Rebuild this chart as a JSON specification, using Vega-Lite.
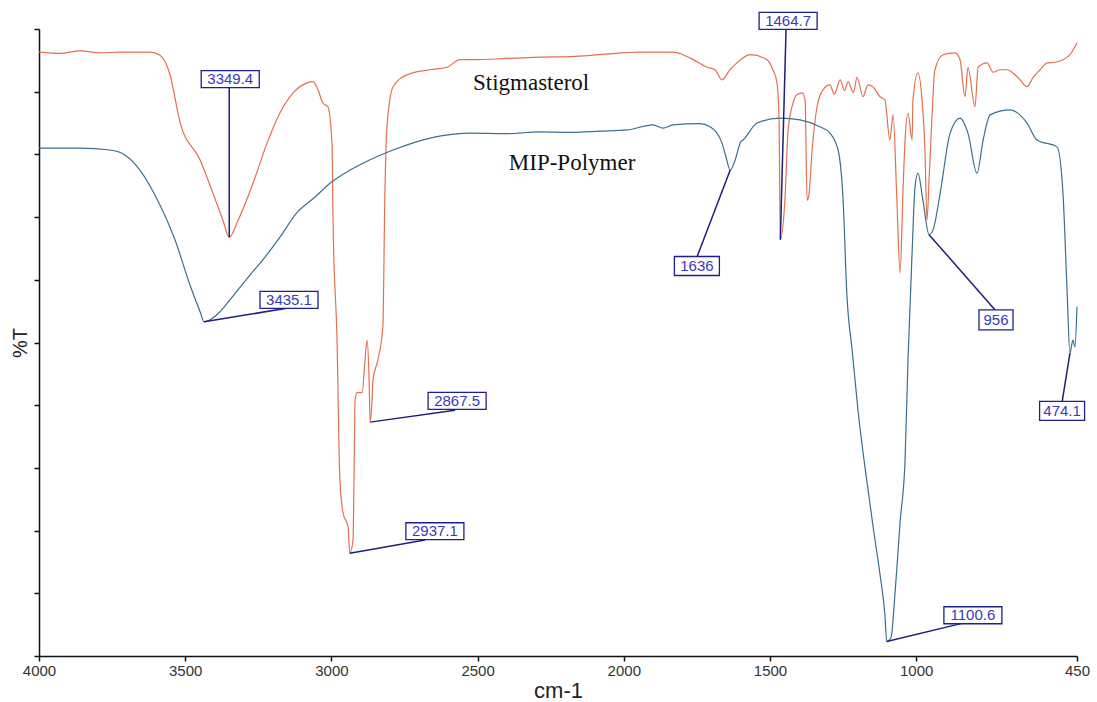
{
  "$schema": "https://vega.github.io/schema/vega-lite/v6.json",
  "width": 1038,
  "height": 627,
  "autosize": "none",
  "padding": {"left": 39, "top": 29, "right": 20, "bottom": 46},
  "background": "white",
  "config": {"view": {"stroke": null}},
  "datasets": {
    "spectra": [
      {"series": "Stigmasterol", "w": 4000, "t": 96.3},
      {"series": "Stigmasterol", "w": 3930, "t": 96.1},
      {"series": "Stigmasterol", "w": 3860, "t": 96.5},
      {"series": "Stigmasterol", "w": 3790, "t": 96.2},
      {"series": "Stigmasterol", "w": 3723, "t": 96.3},
      {"series": "Stigmasterol", "w": 3620, "t": 96.3},
      {"series": "Stigmasterol", "w": 3586, "t": 95.8},
      {"series": "Stigmasterol", "w": 3552, "t": 92.7},
      {"series": "Stigmasterol", "w": 3518, "t": 85.2},
      {"series": "Stigmasterol", "w": 3449, "t": 79.1},
      {"series": "Stigmasterol", "w": 3405, "t": 73.8},
      {"series": "Stigmasterol", "w": 3371, "t": 69.5},
      {"series": "Stigmasterol", "w": 3349.4, "t": 66.8},
      {"series": "Stigmasterol", "w": 3319, "t": 69.5},
      {"series": "Stigmasterol", "w": 3268, "t": 75.4},
      {"series": "Stigmasterol", "w": 3220, "t": 81.8},
      {"series": "Stigmasterol", "w": 3176, "t": 86.6},
      {"series": "Stigmasterol", "w": 3131, "t": 89.8},
      {"series": "Stigmasterol", "w": 3083, "t": 91.4},
      {"series": "Stigmasterol", "w": 3063, "t": 91.6},
      {"series": "Stigmasterol", "w": 3046, "t": 90.3},
      {"series": "Stigmasterol", "w": 3029, "t": 88.2},
      {"series": "Stigmasterol", "w": 3012, "t": 87.6},
      {"series": "Stigmasterol", "w": 2998, "t": 81.8},
      {"series": "Stigmasterol", "w": 2994, "t": 68.4},
      {"series": "Stigmasterol", "w": 2981, "t": 50.9},
      {"series": "Stigmasterol", "w": 2971, "t": 28.1},
      {"series": "Stigmasterol", "w": 2960, "t": 22.8},
      {"series": "Stigmasterol", "w": 2943, "t": 20.6},
      {"series": "Stigmasterol", "w": 2937.1, "t": 16.4},
      {"series": "Stigmasterol", "w": 2926, "t": 18.5},
      {"series": "Stigmasterol", "w": 2923, "t": 27.0},
      {"series": "Stigmasterol", "w": 2919, "t": 40.8},
      {"series": "Stigmasterol", "w": 2912, "t": 42.0},
      {"series": "Stigmasterol", "w": 2895, "t": 42.0},
      {"series": "Stigmasterol", "w": 2885, "t": 47.2},
      {"series": "Stigmasterol", "w": 2878, "t": 50.4},
      {"series": "Stigmasterol", "w": 2871, "t": 44.0},
      {"series": "Stigmasterol", "w": 2867.5, "t": 37.3},
      {"series": "Stigmasterol", "w": 2861, "t": 40.8},
      {"series": "Stigmasterol", "w": 2858, "t": 44.0},
      {"series": "Stigmasterol", "w": 2841, "t": 47.2},
      {"series": "Stigmasterol", "w": 2824, "t": 52.5},
      {"series": "Stigmasterol", "w": 2817, "t": 73.8},
      {"series": "Stigmasterol", "w": 2810, "t": 84.4},
      {"series": "Stigmasterol", "w": 2789, "t": 90.8},
      {"series": "Stigmasterol", "w": 2741, "t": 92.7},
      {"series": "Stigmasterol", "w": 2663, "t": 93.5},
      {"series": "Stigmasterol", "w": 2605, "t": 93.9},
      {"series": "Stigmasterol", "w": 2560, "t": 95.1},
      {"series": "Stigmasterol", "w": 2516, "t": 95.1},
      {"series": "Stigmasterol", "w": 2400, "t": 95.3},
      {"series": "Stigmasterol", "w": 2287, "t": 95.5},
      {"series": "Stigmasterol", "w": 2180, "t": 95.6},
      {"series": "Stigmasterol", "w": 2081, "t": 95.9},
      {"series": "Stigmasterol", "w": 1945, "t": 96.3},
      {"series": "Stigmasterol", "w": 1832, "t": 96.3},
      {"series": "Stigmasterol", "w": 1774, "t": 95.4},
      {"series": "Stigmasterol", "w": 1715, "t": 93.9},
      {"series": "Stigmasterol", "w": 1688, "t": 93.5},
      {"series": "Stigmasterol", "w": 1664, "t": 91.9},
      {"series": "Stigmasterol", "w": 1637, "t": 93.5},
      {"series": "Stigmasterol", "w": 1613, "t": 94.6},
      {"series": "Stigmasterol", "w": 1568, "t": 95.9},
      {"series": "Stigmasterol", "w": 1510, "t": 95.1},
      {"series": "Stigmasterol", "w": 1490, "t": 93.5},
      {"series": "Stigmasterol", "w": 1476, "t": 91.4},
      {"series": "Stigmasterol", "w": 1469, "t": 85.5},
      {"series": "Stigmasterol", "w": 1464.7, "t": 66.4},
      {"series": "Stigmasterol", "w": 1449, "t": 72.7},
      {"series": "Stigmasterol", "w": 1438, "t": 83.9},
      {"series": "Stigmasterol", "w": 1421, "t": 88.2},
      {"series": "Stigmasterol", "w": 1408, "t": 89.5},
      {"series": "Stigmasterol", "w": 1390, "t": 89.8},
      {"series": "Stigmasterol", "w": 1380, "t": 88.7},
      {"series": "Stigmasterol", "w": 1373, "t": 72.7},
      {"series": "Stigmasterol", "w": 1367, "t": 73.5},
      {"series": "Stigmasterol", "w": 1356, "t": 80.7},
      {"series": "Stigmasterol", "w": 1339, "t": 87.6},
      {"series": "Stigmasterol", "w": 1319, "t": 90.3},
      {"series": "Stigmasterol", "w": 1295, "t": 91.1},
      {"series": "Stigmasterol", "w": 1280, "t": 89.6},
      {"series": "Stigmasterol", "w": 1260, "t": 91.9},
      {"series": "Stigmasterol", "w": 1245, "t": 90.2},
      {"series": "Stigmasterol", "w": 1233, "t": 91.6},
      {"series": "Stigmasterol", "w": 1215, "t": 89.9},
      {"series": "Stigmasterol", "w": 1202, "t": 92.3},
      {"series": "Stigmasterol", "w": 1182, "t": 89.2},
      {"series": "Stigmasterol", "w": 1165, "t": 91.1},
      {"series": "Stigmasterol", "w": 1148, "t": 90.8},
      {"series": "Stigmasterol", "w": 1124, "t": 89.2},
      {"series": "Stigmasterol", "w": 1107, "t": 88.7},
      {"series": "Stigmasterol", "w": 1090, "t": 82.3},
      {"series": "Stigmasterol", "w": 1079, "t": 86.3},
      {"series": "Stigmasterol", "w": 1066, "t": 72.7},
      {"series": "Stigmasterol", "w": 1055, "t": 61.1},
      {"series": "Stigmasterol", "w": 1045, "t": 74.3},
      {"series": "Stigmasterol", "w": 1038, "t": 82.3},
      {"series": "Stigmasterol", "w": 1028, "t": 86.6},
      {"series": "Stigmasterol", "w": 1014, "t": 82.3},
      {"series": "Stigmasterol", "w": 1011, "t": 88.7},
      {"series": "Stigmasterol", "w": 994, "t": 93.0},
      {"series": "Stigmasterol", "w": 980, "t": 88.7},
      {"series": "Stigmasterol", "w": 970, "t": 80.7},
      {"series": "Stigmasterol", "w": 963, "t": 69.5},
      {"series": "Stigmasterol", "w": 956, "t": 75.9},
      {"series": "Stigmasterol", "w": 946, "t": 86.0},
      {"series": "Stigmasterol", "w": 936, "t": 93.5},
      {"series": "Stigmasterol", "w": 908, "t": 95.9},
      {"series": "Stigmasterol", "w": 867, "t": 96.2},
      {"series": "Stigmasterol", "w": 850, "t": 95.1},
      {"series": "Stigmasterol", "w": 833, "t": 89.2},
      {"series": "Stigmasterol", "w": 823, "t": 93.9},
      {"series": "Stigmasterol", "w": 799, "t": 87.6},
      {"series": "Stigmasterol", "w": 788, "t": 93.9},
      {"series": "Stigmasterol", "w": 758, "t": 94.6},
      {"series": "Stigmasterol", "w": 737, "t": 93.1},
      {"series": "Stigmasterol", "w": 713, "t": 93.5},
      {"series": "Stigmasterol", "w": 689, "t": 93.5},
      {"series": "Stigmasterol", "w": 662, "t": 92.7},
      {"series": "Stigmasterol", "w": 645, "t": 91.9},
      {"series": "Stigmasterol", "w": 621, "t": 90.8},
      {"series": "Stigmasterol", "w": 600, "t": 92.3},
      {"series": "Stigmasterol", "w": 576, "t": 93.5},
      {"series": "Stigmasterol", "w": 552, "t": 94.6},
      {"series": "Stigmasterol", "w": 525, "t": 94.7},
      {"series": "Stigmasterol", "w": 498, "t": 95.1},
      {"series": "Stigmasterol", "w": 474, "t": 95.9},
      {"series": "Stigmasterol", "w": 450, "t": 97.8},
      {"series": "MIP-Polymer", "w": 4000, "t": 81.0},
      {"series": "MIP-Polymer", "w": 3860, "t": 81.0},
      {"series": "MIP-Polymer", "w": 3757, "t": 80.7},
      {"series": "MIP-Polymer", "w": 3706, "t": 79.9},
      {"series": "MIP-Polymer", "w": 3655, "t": 77.5},
      {"series": "MIP-Polymer", "w": 3586, "t": 71.9},
      {"series": "MIP-Polymer", "w": 3535, "t": 66.4},
      {"series": "MIP-Polymer", "w": 3484, "t": 59.2},
      {"series": "MIP-Polymer", "w": 3449, "t": 54.9},
      {"series": "MIP-Polymer", "w": 3435.1, "t": 53.3},
      {"series": "MIP-Polymer", "w": 3381, "t": 54.9},
      {"series": "MIP-Polymer", "w": 3347, "t": 56.8},
      {"series": "MIP-Polymer", "w": 3278, "t": 60.8},
      {"series": "MIP-Polymer", "w": 3234, "t": 63.2},
      {"series": "MIP-Polymer", "w": 3176, "t": 66.8},
      {"series": "MIP-Polymer", "w": 3118, "t": 70.7},
      {"series": "MIP-Polymer", "w": 3056, "t": 73.2},
      {"series": "MIP-Polymer", "w": 3005, "t": 75.4},
      {"series": "MIP-Polymer", "w": 2936, "t": 77.5},
      {"series": "MIP-Polymer", "w": 2892, "t": 78.6},
      {"series": "MIP-Polymer", "w": 2789, "t": 80.7},
      {"series": "MIP-Polymer", "w": 2663, "t": 82.6},
      {"series": "MIP-Polymer", "w": 2516, "t": 83.4},
      {"series": "MIP-Polymer", "w": 2400, "t": 83.3},
      {"series": "MIP-Polymer", "w": 2287, "t": 83.6},
      {"series": "MIP-Polymer", "w": 2180, "t": 83.5},
      {"series": "MIP-Polymer", "w": 2081, "t": 83.7},
      {"series": "MIP-Polymer", "w": 1989, "t": 83.9},
      {"series": "MIP-Polymer", "w": 1900, "t": 84.7},
      {"series": "MIP-Polymer", "w": 1866, "t": 84.2},
      {"series": "MIP-Polymer", "w": 1832, "t": 84.7},
      {"series": "MIP-Polymer", "w": 1739, "t": 84.9},
      {"series": "MIP-Polymer", "w": 1705, "t": 84.4},
      {"series": "MIP-Polymer", "w": 1664, "t": 81.8},
      {"series": "MIP-Polymer", "w": 1650, "t": 79.5},
      {"series": "MIP-Polymer", "w": 1636, "t": 77.5},
      {"series": "MIP-Polymer", "w": 1620, "t": 79.0},
      {"series": "MIP-Polymer", "w": 1600, "t": 82.0},
      {"series": "MIP-Polymer", "w": 1592, "t": 82.3},
      {"series": "MIP-Polymer", "w": 1544, "t": 85.0},
      {"series": "MIP-Polymer", "w": 1466, "t": 85.8},
      {"series": "MIP-Polymer", "w": 1397, "t": 85.5},
      {"series": "MIP-Polymer", "w": 1329, "t": 84.4},
      {"series": "MIP-Polymer", "w": 1295, "t": 83.4},
      {"series": "MIP-Polymer", "w": 1267, "t": 80.7},
      {"series": "MIP-Polymer", "w": 1250, "t": 72.7},
      {"series": "MIP-Polymer", "w": 1237, "t": 57.6},
      {"series": "MIP-Polymer", "w": 1219, "t": 48.8},
      {"series": "MIP-Polymer", "w": 1199, "t": 39.2},
      {"series": "MIP-Polymer", "w": 1172, "t": 29.0},
      {"series": "MIP-Polymer", "w": 1144, "t": 19.5},
      {"series": "MIP-Polymer", "w": 1124, "t": 13.1},
      {"series": "MIP-Polymer", "w": 1107, "t": 6.6},
      {"series": "MIP-Polymer", "w": 1100.6, "t": 2.3},
      {"series": "MIP-Polymer", "w": 1086, "t": 3.0},
      {"series": "MIP-Polymer", "w": 1072, "t": 10.2},
      {"series": "MIP-Polymer", "w": 1055, "t": 21.4},
      {"series": "MIP-Polymer", "w": 1038, "t": 31.3},
      {"series": "MIP-Polymer", "w": 1028, "t": 47.2},
      {"series": "MIP-Polymer", "w": 1014, "t": 64.3},
      {"series": "MIP-Polymer", "w": 1004, "t": 74.8},
      {"series": "MIP-Polymer", "w": 994, "t": 77.0},
      {"series": "MIP-Polymer", "w": 977, "t": 72.7},
      {"series": "MIP-Polymer", "w": 956, "t": 67.2},
      {"series": "MIP-Polymer", "w": 942, "t": 68.0},
      {"series": "MIP-Polymer", "w": 918, "t": 73.8},
      {"series": "MIP-Polymer", "w": 884, "t": 83.4},
      {"series": "MIP-Polymer", "w": 850, "t": 85.8},
      {"series": "MIP-Polymer", "w": 823, "t": 83.4},
      {"series": "MIP-Polymer", "w": 792, "t": 77.0},
      {"series": "MIP-Polymer", "w": 771, "t": 82.3},
      {"series": "MIP-Polymer", "w": 747, "t": 86.3},
      {"series": "MIP-Polymer", "w": 679, "t": 87.1},
      {"series": "MIP-Polymer", "w": 621, "t": 85.0},
      {"series": "MIP-Polymer", "w": 587, "t": 82.3},
      {"series": "MIP-Polymer", "w": 518, "t": 81.2},
      {"series": "MIP-Polymer", "w": 498, "t": 73.8},
      {"series": "MIP-Polymer", "w": 484, "t": 58.4},
      {"series": "MIP-Polymer", "w": 474.1, "t": 48.3},
      {"series": "MIP-Polymer", "w": 464, "t": 50.4},
      {"series": "MIP-Polymer", "w": 457, "t": 49.3},
      {"series": "MIP-Polymer", "w": 450, "t": 55.7}
    ],
    "peaks": [
      {"label": "3349.4", "pw": 3349.4, "pt": 66.8, "ew": 3349.4, "et": 90.6, "bw": 3346, "bt": 92.0},
      {"label": "3435.1", "pw": 3435.1, "pt": 53.3, "ew": 3148, "et": 55.5, "bw": 3145, "bt": 56.8},
      {"label": "2867.5", "pw": 2867.5, "pt": 37.3, "ew": 2577, "et": 39.2, "bw": 2570, "bt": 40.7},
      {"label": "2937.1", "pw": 2937.1, "pt": 16.4, "ew": 2680, "et": 18.5, "bw": 2646, "bt": 19.9},
      {"label": "1464.7", "pw": 1464.7, "pt": 66.4, "ew": 1445, "et": 100.0, "bw": 1438, "bt": 101.3},
      {"label": "1636", "pw": 1636, "pt": 77.5, "ew": 1750, "et": 63.6, "bw": 1750, "bt": 62.2},
      {"label": "1100.6", "pw": 1100.6, "pt": 2.3, "ew": 826, "et": 5.4, "bw": 806, "bt": 6.5},
      {"label": "956", "pw": 956, "pt": 67.2, "ew": 730, "et": 55.2, "bw": 727, "bt": 53.6},
      {"label": "474.1", "pw": 474.1, "pt": 48.3, "ew": 501, "et": 40.5, "bw": 501, "bt": 39.1}
    ],
    "names": [
      {"name": "Stigmasterol", "w": 2317, "t": 91.4},
      {"name": "MIP-Polymer", "w": 2177, "t": 78.6}
    ]
  },
  "layer": [
    {
      "data": {"name": "spectra"},
      "mark": {"type": "line", "strokeWidth": 1.2, "interpolate": "monotone"},
      "encoding": {
        "x": {
          "field": "w", "type": "quantitative",
          "scale": {"domain": [450, 4000], "reverse": true, "nice": false, "zero": false},
          "axis": {
            "values": [4000, 3500, 3000, 2500, 2000, 1500, 1000, 450],
            "format": "d",
            "title": "cm-1", "grid": false, "labelFlush": false,
            "domainColor": "#111", "domainWidth": 1.5,
            "tickColor": "#111", "tickWidth": 1.5, "tickSize": 5,
            "labelFont": "Liberation Sans", "labelFontSize": 15, "labelColor": "#333", "labelPadding": 2,
            "titleFont": "Liberation Sans", "titleFontSize": 22, "titleFontWeight": "normal", "titleColor": "#222", "titlePadding": 2
          }
        },
        "y": {
          "field": "t", "type": "quantitative",
          "scale": {"domain": [0, 100], "nice": false, "zero": false},
          "axis": {
            "values": [0, 10, 20, 30, 40, 50, 60, 70, 80, 90, 100],
            "labels": false, "title": "%T", "grid": false,
            "domainColor": "#111", "domainWidth": 1.5,
            "tickColor": "#111", "tickWidth": 1.5, "tickSize": 5,
            "titleFont": "Liberation Sans", "titleFontSize": 20, "titleFontWeight": "normal", "titleColor": "#222", "titlePadding": 3
          }
        },
        "color": {
          "field": "series", "type": "nominal",
          "scale": {"domain": ["Stigmasterol", "MIP-Polymer"], "range": ["#e3704f", "#3b6f8e"]},
          "legend": null
        }
      }
    },
    {
      "data": {"name": "peaks"},
      "mark": {"type": "rule", "color": "#1e1e7c", "strokeWidth": 1.5},
      "encoding": {
        "x": {"field": "pw", "type": "quantitative"},
        "y": {"field": "pt", "type": "quantitative"},
        "x2": {"field": "ew"},
        "y2": {"field": "et"}
      }
    },
    {
      "data": {"name": "peaks"},
      "transform": [{"filter": "length(datum.label) >= 6"}],
      "mark": {"type": "point", "shape": "M-0.967,-0.283L0.967,-0.283L0.967,0.283L-0.967,0.283Z", "size": 3600, "filled": true, "fill": "white", "stroke": "#1f1f8f", "strokeWidth": 1.3, "opacity": 1},
      "encoding": {
        "x": {"field": "bw", "type": "quantitative"},
        "y": {"field": "bt", "type": "quantitative"}
      }
    },
    {
      "data": {"name": "peaks"},
      "transform": [{"filter": "length(datum.label) == 4 || length(datum.label) == 5"}],
      "mark": {"type": "point", "shape": "M-0.75,-0.317L0.75,-0.317L0.75,0.317L-0.75,0.317Z", "size": 3600, "filled": true, "fill": "white", "stroke": "#1f1f8f", "strokeWidth": 1.3, "opacity": 1},
      "encoding": {
        "x": {"field": "bw", "type": "quantitative"},
        "y": {"field": "bt", "type": "quantitative"}
      }
    },
    {
      "data": {"name": "peaks"},
      "transform": [{"filter": "length(datum.label) == 3"}],
      "mark": {"type": "point", "shape": "M-0.567,-0.333L0.567,-0.333L0.567,0.333L-0.567,0.333Z", "size": 3600, "filled": true, "fill": "white", "stroke": "#1f1f8f", "strokeWidth": 1.3, "opacity": 1},
      "encoding": {
        "x": {"field": "bw", "type": "quantitative"},
        "y": {"field": "bt", "type": "quantitative"}
      }
    },
    {
      "data": {"name": "peaks"},
      "mark": {"type": "text", "align": "center", "baseline": "middle", "font": "Liberation Sans", "fontSize": 15, "color": "#3a3ab8"},
      "encoding": {
        "x": {"field": "bw", "type": "quantitative"},
        "y": {"field": "bt", "type": "quantitative"},
        "text": {"field": "label"}
      }
    },
    {
      "data": {"name": "names"},
      "mark": {"type": "text", "align": "center", "baseline": "middle", "font": "Liberation Serif", "fontSize": 23, "color": "#111"},
      "encoding": {
        "x": {"field": "w", "type": "quantitative"},
        "y": {"field": "t", "type": "quantitative"},
        "text": {"field": "name"}
      }
    }
  ]
}
